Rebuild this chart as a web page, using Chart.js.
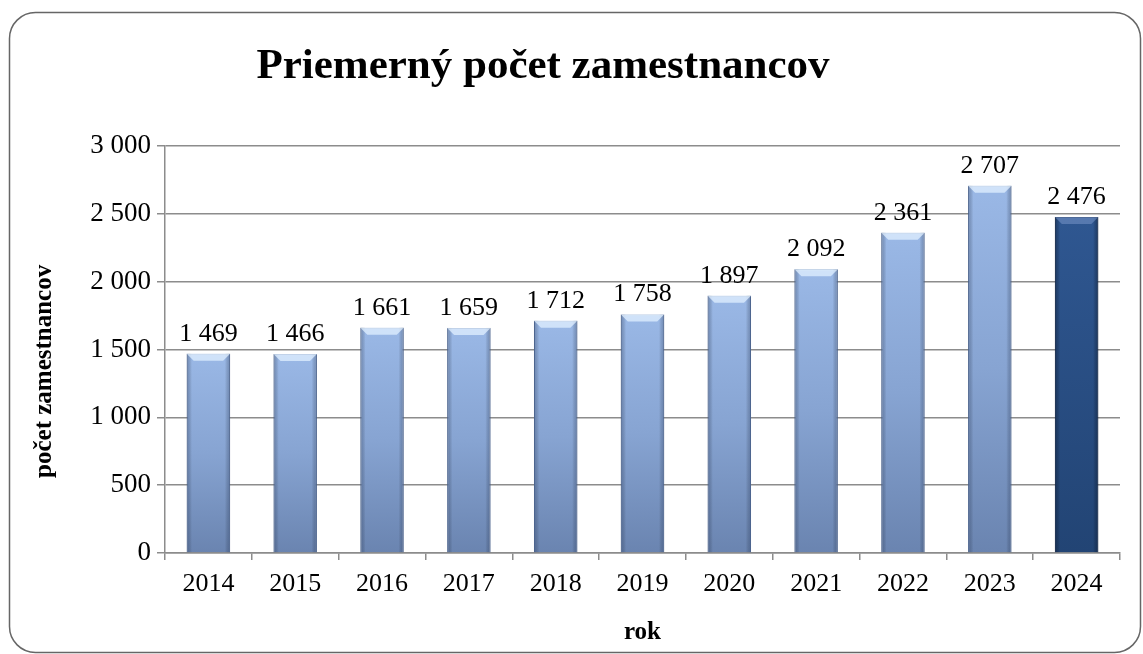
<!DOCTYPE html>
<html>
<head>
<meta charset="utf-8">
<script src="https://cdn.jsdelivr.net/npm/chart.js@4.4.1/dist/chart.umd.min.js"></script>
<style>
  html,body{margin:0;padding:0;background:#fff;}
  #wrap{position:relative;width:1143px;height:654px;}
</style>
</head>
<body>
<div id="wrap"><canvas id="c" width="1143" height="654"></canvas></div>
<script>
// priemerný počet zamestnancov 2014-2024
const roky = ['2014','2015','2016','2017','2018','2019','2020','2021','2022','2023','2024'];
const pocty = [1469, 1466, 1661, 1659, 1712, 1758, 1897, 2092, 2361, 2707, 2476];
const yTicks = [0, 500, 1000, 1500, 2000, 2500, 3000];
const nadpis = 'Priemerný počet zamestnancov';

const SERIF = '"Liberation Serif", "Times New Roman", serif';

// oddeľovač tisícov - medzera
function fmt(v){ return String(v).replace(/\B(?=(\d{3})+(?!\d))/g, '\u00a0'); }

// farba stĺpca: posledný rok tmavší
function barFill(ctx){
  const chart = ctx.chart;
  const i = ctx.dataIndex;
  const last = i === roky.length-1;
  const y = chart.scales.y;
  if(!chart.chartArea || !y || !ctx.parsed) return last ? '#2a4e86' : '#86a3d1';
  const top = y.getPixelForValue(ctx.parsed.y);
  const bot = y.getPixelForValue(0);
  if(!isFinite(top) || !isFinite(bot)) return last ? '#2a4e86' : '#86a3d1';
  const g = chart.ctx.createLinearGradient(0, top, 0, bot);
  if(last){
    g.addColorStop(0, '#2f5791');
    g.addColorStop(1, '#224474');
  } else {
    g.addColorStop(0, '#9ab8e6');
    g.addColorStop(0.5, '#87a4d2');
    g.addColorStop(1, '#6a84b0');
  }
  return g;
}

// okraj grafu so zaoblenými rohmi
const ramPlugin = {
  id:'ram',
  beforeDraw(chart){
    const c = chart.ctx;
    c.save();
    c.fillStyle = '#fff';
    c.fillRect(0,0,chart.width,chart.height);
    c.strokeStyle = '#666';
    c.lineWidth = 1.5;
    c.beginPath();
    c.roundRect(9.5, 12.5, 1131, 640, 26);
    c.stroke();
    c.restore();
  }
};

// nadpis, trochu vľavo od stredu ako v originále
const nadpisPlugin = {
  id:'nadpis',
  afterDraw(chart){
    const c = chart.ctx;
    c.save();
    c.font = 'bold 43px ' + SERIF;
    c.fillStyle = '#000';
    c.textAlign = 'center';
    c.textBaseline = 'middle';
    c.fillText(nadpis, 543, 67);
    c.restore();
  }
};

// zosvetlenie na stĺpcoch (bevel)
const bevelPlugin = {
  id:'bevel',
  afterDatasetsDraw(chart){
    const c = chart.ctx;
    const meta = chart.getDatasetMeta(0);
    c.save();
    meta.data.forEach((bar, i) => {
      const l = bar.x - bar.width/2, r = bar.x + bar.width/2;
      const t = bar.y, b = bar.base;
      const dark = i === roky.length-1;
      // tmavšie boky
      const h = c.createLinearGradient(l, 0, r, 0);
      h.addColorStop(0, dark ? 'rgba(10,25,50,0.45)' : 'rgba(40,60,100,0.35)');
      h.addColorStop(0.12, 'rgba(0,0,0,0)');
      h.addColorStop(0.88, 'rgba(0,0,0,0)');
      h.addColorStop(1, dark ? 'rgba(10,25,50,0.45)' : 'rgba(40,60,100,0.35)');
      c.fillStyle = h;
      c.fillRect(l, t, r-l, b-t);
      // svetlý horný skos
      const s = 7;
      c.beginPath();
      c.moveTo(l, t); c.lineTo(r, t); c.lineTo(r-s, t+s); c.lineTo(l+s, t+s); c.closePath();
      c.fillStyle = dark ? 'rgba(120,150,200,0.55)' : 'rgba(225,240,255,0.75)';
      c.fill();
    });
    c.restore();
  }
};

// hodnoty nad stĺpcami
const hodnotyPlugin = {
  id:'hodnoty',
  afterDatasetsDraw(chart){
    const c = chart.ctx;
    const meta = chart.getDatasetMeta(0);
    c.save();
    c.font = '26px ' + SERIF;
    c.fillStyle = '#000';
    c.textAlign = 'center';
    c.textBaseline = 'alphabetic';
    meta.data.forEach((bar, i) => {
      c.fillText(fmt(pocty[i]), bar.x, bar.y - 13);
    });
    c.restore();
  }
};

new Chart(document.getElementById('c'), {
  type:'bar',
  data:{
    labels: roky,
    datasets:[{
      data: pocty,
      backgroundColor: barFill,
      borderColor: (ctx) => ctx.dataIndex === roky.length-1 ? '#1c365e' : '#5f7aa6',
      borderWidth: 1,
      barPercentage: 0.5,
      categoryPercentage: 1.0
    }]
  },
  options:{
    responsive:false,
    animation:false,
    devicePixelRatio:1,
    layout:{padding:{left:30, right:23, top:146, bottom:6}},
    plugins:{legend:{display:false}, tooltip:{enabled:false}, title:{display:false}},
    scales:{
      x:{
        offset:true,
        grid:{display:true, drawOnChartArea:false, drawTicks:true, tickLength:7, color:'#8c8c8c', lineWidth:1.5, offset:true},
        border:{display:true, color:'#8c8c8c', width:1.5},
        ticks:{font:{family:SERIF, size:26}, color:'#000', padding:9},
        title:{display:true, text:'rok', font:{family:SERIF, size:25, weight:'bold'}, color:'#000', padding:{top:4, bottom:0}},
        afterFit(s){ s.height = 654 - 553 - 6; }
      },
      y:{
        min:0, max:3000,
        afterBuildTicks(s){ s.ticks = yTicks.map(v => ({value:v})); },
        grid:{color:'#8c8c8c', lineWidth:1.5, tickLength:8},
        border:{display:true, color:'#8c8c8c', width:1.5},
        ticks:{font:{family:SERIF, size:27}, color:'#000', padding:6, callback:(v)=>fmt(v)},
        // koncové medzery posunú text nadol ako v originále
        title:{display:true, text:'počet zamestnancov' + '\u00a0'.repeat(7), font:{family:SERIF, size:25, weight:'bold'}, color:'#000', padding:0},
        afterFit(s){ s.width = 165 - 30; }
      }
    }
  },
  plugins:[ramPlugin, bevelPlugin, hodnotyPlugin, nadpisPlugin]
});
</script>
</body>
</html>
